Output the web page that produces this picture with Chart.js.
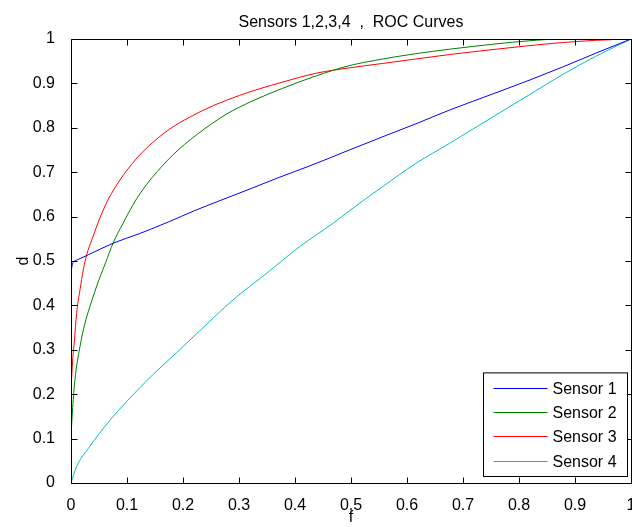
<!DOCTYPE html>
<html>
<head>
<meta charset="utf-8">
<title>ROC Curves</title>
<script src="https://cdn.jsdelivr.net/npm/chart.js@4/dist/chart.umd.min.js"></script>
<style>
  html, body { margin: 0; padding: 0; background: #fff; }
  #rocChart { display: block; }
</style>
</head>
<body>
<canvas id="rocChart" width="632" height="527"></canvas>
<script>
// ---- data ----
const chartTitle = "Sensors 1,2,3,4  ,  ROC Curves";
const xAxisLabel = "f";
const yAxisLabel = "d";
const tickValues = [0, 0.1, 0.2, 0.3, 0.4, 0.5, 0.6, 0.7, 0.8, 0.9, 1];
const tickLabels = ["0", "0.1", "0.2", "0.3", "0.4", "0.5", "0.6", "0.7", "0.8", "0.9", "1"];

const seriesLabels = ["Sensor 1", "Sensor 2", "Sensor 3", "Sensor 4"];
const seriesColors = ["#0000ff", "#008000", "#ff0000", "#00bfbf"];

// false alarm rate (f) / detection rate (d) per sensor
const sensor1F = [0, 0.003, 0.01, 0.031, 0.075, 0.123, 0.176, 0.218, 0.266, 0.319, 0.373, 0.426, 0.497, 0.557, 0.616, 0.676, 0.759, 0.818, 0.878, 0.937, 1];
const sensor1D = [0.475, 0.495, 0.502, 0.514, 0.54, 0.562, 0.589, 0.612, 0.636, 0.662, 0.689, 0.714, 0.75, 0.78, 0.809, 0.84, 0.879, 0.907, 0.937, 0.968, 1];

const sensor2F = [0, 0.003, 0.007, 0.016, 0.025, 0.037, 0.05, 0.062, 0.075, 0.093, 0.11, 0.125, 0.145, 0.182, 0.224, 0.278, 0.325, 0.378, 0.438, 0.497, 0.557, 0.616, 0.676, 0.759, 0.818, 0.878, 1];
const sensor2D = [0.104, 0.17, 0.232, 0.307, 0.36, 0.41, 0.458, 0.497, 0.54, 0.585, 0.625, 0.655, 0.688, 0.739, 0.784, 0.831, 0.861, 0.889, 0.917, 0.94, 0.955, 0.967, 0.977, 0.989, 0.996, 1, 1];

const sensor3F = [0, 0.003, 0.006, 0.01, 0.016, 0.022, 0.028, 0.037, 0.052, 0.065, 0.08, 0.099, 0.12, 0.138, 0.176, 0.212, 0.254, 0.301, 0.337, 0.378, 0.438, 0.497, 0.557, 0.616, 0.676, 0.759, 0.818, 0.878, 0.937, 1];
const sensor3D = [0.21, 0.277, 0.32, 0.382, 0.435, 0.48, 0.514, 0.547, 0.598, 0.635, 0.668, 0.703, 0.735, 0.758, 0.797, 0.824, 0.85, 0.873, 0.888, 0.903, 0.923, 0.935, 0.945, 0.955, 0.965, 0.977, 0.985, 0.992, 0.997, 1];

const sensor4F = [0, 0.01, 0.031, 0.07, 0.099, 0.147, 0.188, 0.23, 0.289, 0.349, 0.408, 0.468, 0.497, 0.557, 0.616, 0.676, 0.759, 0.818, 0.878, 0.937, 1];
const sensor4D = [0, 0.037, 0.078, 0.142, 0.183, 0.245, 0.293, 0.343, 0.412, 0.472, 0.532, 0.585, 0.613, 0.668, 0.72, 0.765, 0.829, 0.874, 0.92, 0.961, 1];

const seriesF = [sensor1F, sensor2F, sensor3F, sensor4F];
const seriesD = [sensor1D, sensor2D, sensor3D, sensor4D];

const FONT = "'Liberation Sans', Arial, sans-serif";
const FONT_SIZE = 16;

function toPoints(fs, ds) {
  return fs.map((f, i) => ({ x: f, y: ds[i] }));
}

// boxed axes with inward ticks on all four sides
const axesBox = {
  id: 'axesBox',
  afterDraw(chart) {
    const { ctx, chartArea: a, scales: { x, y } } = chart;
    const tick = 6;
    const L = a.left + 0.5, R = a.right + 0.5, T = a.top + 0.5, B = a.bottom + 0.5;
    ctx.save();
    ctx.strokeStyle = '#000';
    ctx.lineWidth = 1;
    ctx.beginPath();
    ctx.rect(L, T, R - L, B - T);
    tickValues.forEach(v => {
      const px = Math.round(x.getPixelForValue(v)) + 0.5;
      ctx.moveTo(px, B); ctx.lineTo(px, B - tick);
      ctx.moveTo(px, T); ctx.lineTo(px, T + tick);
      const py = Math.round(y.getPixelForValue(v)) + 0.5;
      ctx.moveTo(L, py); ctx.lineTo(L + tick, py);
      ctx.moveTo(R, py); ctx.lineTo(R - tick, py);
    });
    ctx.stroke();
    ctx.restore();
  }
};

// title centred over the axes
const plotTitle = {
  id: 'plotTitle',
  afterDraw(chart) {
    const { ctx, chartArea: a } = chart;
    ctx.save();
    ctx.font = FONT_SIZE + 'px ' + FONT;
    ctx.fillStyle = '#000';
    ctx.textAlign = 'center';
    ctx.textBaseline = 'alphabetic';
    ctx.fillText(chartTitle, (a.left + a.right) / 2, 27);
    ctx.restore();
  }
};

// legend box in the lower right corner of the axes
const sensorLegend = {
  id: 'sensorLegend',
  afterDraw(chart) {
    const { ctx, chartArea: a } = chart;
    const sets = chart.data.datasets;
    const boxW = 144, rowH = 24.2, padTop = 15;
    const boxH = padTop * 2 + rowH * (sets.length - 1) + 1;
    const bx = a.right - 4 - boxW + 0.5;
    const by = a.bottom - 7 - boxH + 0.5;
    ctx.save();
    ctx.fillStyle = '#fff';
    ctx.fillRect(bx, by, boxW, boxH);
    ctx.strokeStyle = '#000';
    ctx.lineWidth = 1;
    ctx.strokeRect(bx, by, boxW, boxH);
    ctx.font = FONT_SIZE + 'px ' + FONT;
    ctx.textAlign = 'left';
    ctx.textBaseline = 'middle';
    sets.forEach((ds, i) => {
      const ry = Math.round(by + padTop + i * rowH) + 0.5;
      ctx.strokeStyle = ds.borderColor;
      ctx.beginPath();
      ctx.moveTo(bx + 10, ry);
      ctx.lineTo(bx + 64, ry);
      ctx.stroke();
      ctx.fillStyle = '#000';
      ctx.fillText(ds.label, bx + 69, ry + 1);
    });
    ctx.restore();
  }
};

const tickFont = { family: FONT, size: FONT_SIZE };

new Chart(document.getElementById('rocChart'), {
  type: 'scatter',
  data: {
    datasets: seriesLabels.map((label, i) => ({
      label: label,
      data: toPoints(seriesF[i], seriesD[i]),
      showLine: true,
      borderColor: seriesColors[i],
      backgroundColor: seriesColors[i],
      borderWidth: 1,
      pointRadius: 0,
      cubicInterpolationMode: 'monotone'
    }))
  },
  options: {
    responsive: false,
    animation: false,
    layout: { padding: { top: 39, right: 1, left: 0, bottom: 0 } },
    plugins: {
      legend: { display: false },
      tooltip: { enabled: false }
    },
    scales: {
      x: {
        type: 'linear',
        min: 0,
        max: 1,
        grid: { display: false },
        border: { display: false },
        afterBuildTicks: s => { s.ticks = tickValues.map(v => ({ value: v })); },
        ticks: {
          autoSkip: false,
          maxRotation: 0,
          padding: 5,
          color: '#000',
          font: tickFont,
          callback: (v, i) => tickLabels[i]
        },
        title: { display: true, text: xAxisLabel, color: '#000', font: tickFont, padding: { top: 0, bottom: 0 } },
        afterFit: s => { s.height = 44; s.paddingLeft = 0; s.paddingRight = 0; }
      },
      y: {
        type: 'linear',
        min: 0,
        max: 1,
        grid: { display: false },
        border: { display: false },
        afterBuildTicks: s => { s.ticks = tickValues.map(v => ({ value: v })); },
        ticks: {
          autoSkip: false,
          padding: 8,
          color: '#000',
          font: tickFont,
          callback: (v, i) => tickLabels[i]
        },
        title: { display: true, text: yAxisLabel, color: '#000', font: tickFont, padding: { top: 14, bottom: 0 } },
        afterFit: s => { s.width = 71; s.paddingTop = 0; s.paddingBottom = 0; }
      }
    }
  },
  plugins: [axesBox, plotTitle, sensorLegend]
});
</script>
</body>
</html>
